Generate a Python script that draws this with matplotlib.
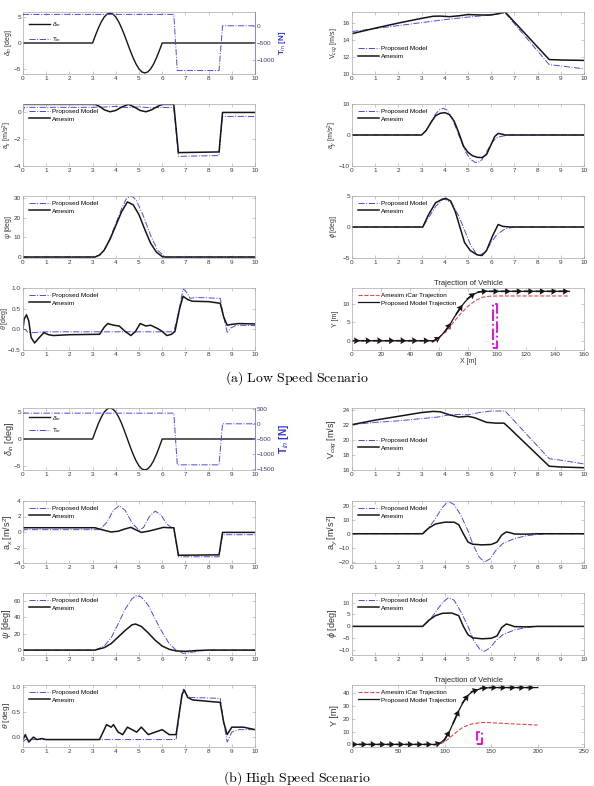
import numpy as np
import matplotlib.pyplot as plt

plt.rcParams['font.family'] = ['Liberation Sans', 'DejaVu Sans']
plt.rcParams['mathtext.fontset'] = 'custom'
plt.rcParams['mathtext.rm'] = 'Liberation Sans'
plt.rcParams['mathtext.it'] = 'Liberation Sans:italic'

BLUE = '#4b4bdc'
BLACK = '#151515'

# ---------------- (a) low speed ----------------
delta_t = [0, 3.0, 3.125, 3.25, 3.375, 3.5, 3.625, 3.75, 3.875, 4.0, 4.125, 4.25, 4.375, 4.5,
           4.625, 4.75, 4.875, 5.0, 5.125, 5.25, 5.375, 5.5, 5.625, 5.75, 5.875, 6.0, 10]
delta_low = [0, 0, 1.48, 2.85, 4.03, 4.94, 5.51, 5.7, 5.51, 4.94, 4.03, 2.85, 1.48, 0,
             -1.48, -2.85, -4.03, -4.94, -5.51, -5.7, -5.51, -4.94, -4.03, -2.85, -1.48, 0, 0]
torque_t = [0, 6.5, 6.65, 8.45, 8.6, 10]
torque_low = [330, 330, -1300, -1300, 0, 0]

v_am_t_low = [0, 1, 2, 3, 3.5, 3.8, 4.2, 4.6, 5.0, 5.5, 6.0, 6.3, 6.6, 8.5, 9.0, 10]
v_am_low = [14.75, 15.4, 16.0, 16.55, 16.8, 16.82, 16.75, 16.85, 17.0, 16.95, 16.95, 17.1, 17.3, 11.7, 11.65, 11.6]
v_pm_t_low = [0, 1, 2, 3, 4, 5, 6, 6.6, 8.5, 9, 10]
v_pm_low = [15.0, 15.35, 15.7, 16.05, 16.4, 16.7, 16.95, 17.2, 11.1, 10.95, 10.6]

ax_am_t_low = [0, 3.1, 3.3, 3.5, 3.75, 4.0, 4.25, 4.55, 4.8, 5.05, 5.3, 5.55, 5.8, 6.0, 6.5, 6.7, 8.45, 8.6, 10]
ax_am_low = [0.6, 0.6, 0.45, 0.2, 0.05, 0.15, 0.4, 0.6, 0.4, 0.15, 0.05, 0.2, 0.45, 0.6, 0.6, -3.0, -2.95, 0.0, 0.0]
ax_pm_t_low = [0, 0.05, 3.0, 3.5, 4.0, 4.5, 5.0, 5.5, 6.0, 6.5, 6.7, 8.45, 8.6, 10]
ax_pm_low = [0.0, 0.38, 0.38, 0.4, 0.45, 0.36, 0.42, 0.35, 0.38, 0.35, -3.28, -3.22, -0.3, -0.3]

ay_am_t_low = [0, 3.0, 3.2, 3.4, 3.6, 3.8, 4.0, 4.2, 4.4, 4.6, 4.8, 5.0, 5.2, 5.4, 5.6, 5.8, 6.0, 6.15, 6.3, 6.45, 6.6, 10]
ay_am_low = [0, 0, 1.5, 4.0, 6.2, 7.0, 7.2, 6.6, 4.5, 0.8, -3.5, -5.6, -6.7, -7.2, -7.3, -6.3, -3.0, -0.5, 0.5, 0.3, 0, 0]
ay_pm_t_low = [0, 3.0, 3.2, 3.4, 3.6, 3.8, 3.95, 4.1, 4.3, 4.5, 4.7, 4.9, 5.1, 5.3, 5.45, 5.6, 5.8, 6.0, 6.2, 6.4, 6.6, 6.8, 10]
ay_pm_low = [0, 0, 1.5, 4.0, 6.8, 8.3, 8.6, 8.0, 5.5, 2.0, -2.0, -5.5, -7.8, -8.8, -8.8, -8.0, -5.5, -2.8, -1.0, -0.5, -0.2, 0, 0]

psi_am_t_low = [0, 3.1, 3.3, 3.5, 3.75, 4.0, 4.25, 4.5, 4.75, 5.0, 5.25, 5.5, 5.75, 6.0, 6.1, 10]
psi_am_low = [0, 0, 1.0, 3.5, 9.0, 16.0, 23.0, 28.0, 26.5, 21.5, 14.0, 7.0, 2.5, 0.2, 0, 0]
psi_pm_t_low = [0, 3.1, 3.3, 3.5, 3.75, 4.0, 4.25, 4.45, 4.6, 4.75, 4.9, 5.2, 5.5, 5.8, 6.1, 6.2, 10]
psi_pm_low = [0, 0, 1.0, 3.5, 9.5, 17.0, 24.5, 29.5, 30.8, 30.5, 28.5, 20.5, 11.0, 3.5, 0.3, 0, 0]

phi_am_t_low = [0, 3.05, 3.3, 3.6, 3.9, 4.05, 4.25, 4.45, 4.65, 4.85, 5.1, 5.4, 5.6, 5.8, 6.05, 6.3, 6.5, 6.8, 10]
phi_am_low = [0, 0, 2.0, 3.9, 4.5, 4.6, 4.2, 2.5, 0, -2.5, -3.8, -4.5, -4.6, -3.8, -1.5, 0.4, 0.1, 0, 0]
phi_pm_t_low = [0, 3.05, 3.3, 3.6, 3.9, 4.0, 4.3, 4.6, 4.85, 5.1, 5.35, 5.5, 5.75, 6.0, 6.25, 6.6, 7.0, 10]
phi_pm_low = [0, 0, 1.5, 3.3, 4.4, 4.5, 3.8, 1.8, -0.5, -2.8, -4.3, -4.6, -4.0, -2.5, -1.2, -0.3, 0, 0]

th_am_t_low = [0, 0.05, 0.15, 0.25, 0.35, 0.5, 0.7, 0.9, 1.1, 1.3, 2.0, 3.3, 3.5, 3.65, 3.9, 4.15, 4.4, 4.65,
               4.85, 5.05, 5.3, 5.5, 5.8, 6.0, 6.2, 6.4, 6.55, 6.75, 6.9, 7.1, 7.3, 8.0, 8.5, 8.65, 8.8, 9.0, 9.3, 10]
th_am_low = [0, 0.25, 0.35, 0.2, -0.2, -0.33, -0.2, -0.08, -0.13, -0.15, -0.13, -0.12, 0.05, 0.14, 0.1, 0.08, -0.05, -0.15,
             -0.05, 0.14, 0.08, 0.1, 0.02, -0.05, -0.15, -0.12, -0.05, 0.5, 0.8, 0.72, 0.68, 0.67, 0.63, 0.3, 0.1, 0.12, 0.14, 0.13]
th_pm_t_low = [0, 0.1, 0.2, 0.4, 1.0, 6.5, 6.7, 6.9, 7.05, 7.2, 7.5, 8.5, 8.65, 8.8, 8.95, 9.2, 10]
th_pm_low = [0.0, 0.0, -0.07, -0.08, -0.06, -0.06, 0.4, 0.98, 0.9, 0.75, 0.77, 0.75, 0.3, -0.07, 0.03, 0.1, 0.09]

trj_x_low = [0, 56, 58, 60, 62, 64, 66, 68, 70, 72, 74, 76, 78, 80, 82, 84, 86, 88, 90, 92, 150]
trj_pm_low = [0, 0, 0.3, 0.9, 1.6, 2.5, 3.5, 4.7, 6.0, 7.2, 8.4, 9.5, 10.5, 11.3, 12.0, 12.5, 12.9, 13.15, 13.25, 13.3, 13.3]
trj_am_x_low = [0, 58, 60, 65, 70, 75, 80, 85, 90, 95, 100, 150]
trj_am_low = [0, 0, 0.8, 2.5, 5.0, 7.3, 9.3, 10.8, 11.7, 12.0, 12.05, 12.05]
arrow_x_low = [2, 10, 18, 26, 34, 42, 50, 58, 66, 74, 82, 90, 98, 106, 114, 122, 130, 138, 146]
obst_low = (97.2, 100.2, -2.0, 10.0)

# ---------------- (b) high speed ----------------
delta_high = [0, 0, 1.5, 2.9, 4.1, 5.02, 5.6, 5.8, 5.6, 5.02, 4.1, 2.9, 1.5, 0,
              -1.5, -2.9, -4.1, -5.02, -5.6, -5.8, -5.6, -5.02, -4.1, -2.9, -1.5, 0, 0]
torque_high = [350, 350, -1350, -1350, 0, 0]

v_am_t_high = [0, 1, 2, 3, 3.5, 3.8, 4.2, 4.6, 5.0, 5.3, 5.8, 6.2, 6.55, 6.7, 8.5, 9.0, 10]
v_am_high = [22.0, 22.6, 23.1, 23.6, 23.75, 23.7, 23.3, 23.0, 23.1, 22.9, 22.3, 22.2, 22.2, 21.8, 16.5, 16.4, 16.3]
v_pm_t_high = [0, 1, 2, 3, 3.7, 4.2, 4.6, 5.0, 5.5, 6.0, 6.6, 8.5, 9.0, 10]
v_pm_high = [22.0, 22.3, 22.5, 22.8, 23.0, 23.3, 23.35, 23.3, 23.6, 23.8, 23.8, 17.5, 17.3, 16.8]

ax_am_t_high = [0, 3.1, 3.4, 3.8, 4.1, 4.4, 4.65, 4.85, 5.1, 5.4, 5.8, 6.05, 6.3, 6.5, 6.7, 8.45, 8.6, 10]
ax_am_high = [0.55, 0.55, 0.3, 0.0, 0.1, 0.4, 0.6, 0.3, -0.05, 0.1, 0.4, 0.6, 0.55, 0.55, -3.0, -2.95, -0.05, -0.05]
ax_pm_t_high = [0, 0.05, 3.3, 3.6, 3.9, 4.15, 4.4, 4.7, 5.0, 5.2, 5.45, 5.7, 5.95, 6.2, 6.5, 6.7, 8.45, 8.6, 10]
ax_pm_high = [0.0, 0.3, 0.3, 1.2, 2.8, 3.4, 2.8, 1.2, 0.2, 0.6, 2.0, 2.7, 2.2, 1.0, 0.4, -3.2, -3.2, -0.35, -0.35]

ay_am_t_high = [0, 3.05, 3.3, 3.6, 4.0, 4.4, 4.6, 4.8, 5.0, 5.2, 5.6, 6.0, 6.25, 6.45, 6.65, 6.8, 7.0, 7.5, 8.0, 10]
ay_am_high = [0, 0, 4.0, 7.0, 8.3, 8.3, 6.5, 0, -6.0, -7.5, -8.0, -7.7, -6.0, -1.0, 1.3, 0.8, -0.2, -0.3, 0, 0]
ay_pm_t_high = [0, 3.0, 3.3, 3.6, 3.9, 4.15, 4.4, 4.7, 5.0, 5.2, 5.45, 5.7, 5.95, 6.2, 6.5, 7.0, 7.5, 8.0, 8.5, 10]
ay_pm_high = [0, 0, 4.0, 11.0, 19.0, 23.2, 21.0, 13.0, 2.0, -7.0, -16.0, -20.5, -18.0, -12.0, -7.0, -3.5, -1.5, -0.5, 0, 0]

psi_am_t_high = [0, 3.1, 3.5, 3.8, 4.1, 4.4, 4.7, 4.85, 5.1, 5.4, 5.7, 6.0, 6.3, 6.6, 7.0, 7.5, 8.0, 10]
psi_am_high = [0, 0, 3, 8, 16, 24, 31, 32, 29, 21, 12, 5, 1, -1, -1.5, -0.5, 0, 0]
psi_pm_t_high = [0, 3.1, 3.5, 3.8, 4.1, 4.4, 4.7, 4.9, 5.1, 5.4, 5.7, 6.0, 6.3, 6.6, 6.9, 7.2, 7.6, 8.0, 10]
psi_pm_high = [0, 0, 5, 15, 32, 50, 63, 67, 65, 55, 38, 22, 8, 0, -4, -3, -1, 0, 0]

phi_am_t_high = [0, 3.05, 3.3, 3.6, 3.9, 4.3, 4.6, 4.8, 5.0, 5.2, 5.6, 6.0, 6.25, 6.45, 6.65, 6.8, 7.0, 7.5, 8.0, 10]
phi_am_high = [0, 0, 2.5, 4.5, 5.5, 5.6, 4.5, 0, -3.5, -4.8, -5.2, -5.0, -4.0, -0.5, 1.0, 0.6, -0.1, -0.2, 0, 0]
phi_pm_t_high = [0, 3.0, 3.3, 3.6, 3.9, 4.15, 4.4, 4.7, 5.0, 5.25, 5.5, 5.7, 5.95, 6.2, 6.5, 7.0, 7.5, 8.0, 10]
phi_pm_high = [0, 0, 2.0, 6.0, 10.0, 12.0, 11.0, 6.0, 0, -6.0, -9.5, -10.5, -9.0, -6.0, -3.5, -1.5, -0.5, 0, 0]

th_am_t_high = [0, 0.1, 0.25, 0.45, 0.6, 0.8, 1.0, 3.3, 3.5, 3.6, 3.8, 3.9, 4.1, 4.3, 4.5, 4.7, 4.9, 5.1,
                5.4, 5.7, 6.0, 6.3, 6.6, 6.85, 6.95, 7.1, 7.3, 8.0, 8.5, 8.65, 8.8, 9.0, 9.5, 10]
th_am_high = [-0.05, 0.05, -0.1, 0.0, -0.05, -0.03, -0.05, -0.05, 0.15, 0.25, 0.2, 0.25, 0.1, 0.05, 0.2, 0.15, 0.1, 0.2,
              0.05, 0.1, 0.15, 0.05, 0.05, 0.85, 0.95, 0.8, 0.75, 0.72, 0.7, 0.3, 0.05, 0.2, 0.2, 0.15]
th_pm_t_high = [0, 0.1, 0.3, 6.6, 6.75, 6.9, 7.05, 7.2, 8.5, 8.65, 8.8, 9.0, 9.3, 10]
th_pm_high = [-0.1, -0.05, -0.05, -0.05, 0.5, 0.98, 0.85, 0.8, 0.78, 0.3, -0.1, 0.1, 0.15, 0.15]

trj_x_high = [0, 90, 95, 100, 105, 110, 115, 120, 125, 130, 140, 150, 200]
trj_pm_high = [0, 0, 1, 4, 10, 18, 26, 33, 38, 41, 43.5, 44, 44]
trj_am_x_high = [0, 90, 95, 100, 105, 110, 115, 120, 130, 140, 150, 170, 200]
trj_am_high = [0, 0, 0.5, 2, 5, 8, 11, 13.5, 16, 17, 16.8, 16, 15]
arrow_x_high = [2, 12, 22, 32, 42, 52, 62, 72, 82, 92, 102, 112, 122, 132, 142, 152, 162, 172, 182, 192]
obst_high = (135.0, 140.0, 0.0, 10.0)

W, H = 594, 786
fig = plt.figure(figsize=(W / 100, H / 100), dpi=100)


def new_ax(col, top):
    x0 = 23 if col == 0 else 352
    return fig.add_axes([x0 / W, 1 - (top + 62) / H, 232 / W, 62 / H])


def style(ax, xlim, ylim, yticks, xticks=None):
    ax.set_xlim(xlim)
    ax.set_ylim(ylim)
    ax.set_yticks(yticks)
    if xticks is not None:
        ax.set_xticks(xticks)
    ax.tick_params(direction='in', length=2, width=0.4, labelsize=4.6, pad=1.5,
                   colors='#a0a0a0', labelcolor='#3a3a3a', top=True, right=True)
    for s in ax.spines.values():
        s.set_color('#a8a8a8')
        s.set_linewidth(0.5)


def ylab(ax, text, fs, lx):
    ax.set_ylabel(text, fontsize=fs, color='#333333')
    # label coords give the right edge of the rotated text
    ax.yaxis.set_label_coords(lx, 0.5)


def leg(ax, loc, anchor, **kw):
    opts = dict(frameon=False, fontsize=4.6, handlelength=3.3, handletextpad=0.3,
                labelspacing=0.35, borderaxespad=0.2)
    opts.update(kw)
    return ax.legend(loc=loc, bbox_to_anchor=anchor, **opts)


def compare(ax, t_pm, y_pm, t_am, y_am, ylabel, ylim, yticks, fs, lx, legend_loc=(0.01, 0.99), va='upper left'):
    ax.plot(t_pm, y_pm, '-.', color=BLUE, lw=0.7, label='Proposed Model')
    ax.plot(t_am, y_am, '-', color=BLACK, lw=1.1, label='Amesim')
    style(ax, (0, 10), ylim, yticks, range(0, 11))
    ylab(ax, ylabel, fs, lx)
    leg(ax, va, legend_loc)


def steer(ax, delta, torque, dlim, tlim, tticks, fs, lx, anchor, spacing):
    l1, = ax.plot(delta_t, delta, '-', color=BLACK, lw=1.0)
    style(ax, (0, 10), dlim, [-5, 0, 5], range(0, 11))
    ax.tick_params(right=False)
    ylab(ax, r'$\delta_{in}$ [deg]', fs, lx)
    ax2 = ax.twinx()
    l2, = ax2.plot(torque_t, torque, '-.', color=BLUE, lw=0.7)
    ax2.set_ylim(tlim)
    ax2.set_yticks(tticks)
    ax2.tick_params(direction='in', length=2, width=0.4, labelsize=4.6, pad=1.5,
                    colors='#8080e0', labelcolor='#3a3a7a')
    ax2.spines['right'].set_color('#8080e0')
    ax2.spines['right'].set_linewidth(0.6)
    for s in ['top', 'left', 'bottom']:
        ax2.spines[s].set_visible(False)
    ax2.set_ylabel(r'T$_{in}$ [N]', fontsize=fs + 0.8, color='#3030d0', fontweight='bold', labelpad=1)
    leg(ax, 'upper left', anchor, labelspacing=spacing, handles=[l1, l2],
        labels=[r'$\delta_{in}$', r'T$_{in}$'])


def trajectory(ax, x_pm, y_pm, x_am, y_am, arrows, obst, xlim, ylim, yticks, xticks, fs, lx, alen, xlabel):
    ax.plot(x_am, y_am, '--', color='#e04848', lw=0.8, label='Amesim iCar Trajection')
    ax.plot(x_pm, y_pm, '-', color=BLACK, lw=0.9, label='Proposed Model Trajection')
    arrows = np.array(arrows, dtype=float)
    ay = np.interp(arrows, x_pm, y_pm)
    dy = np.interp(arrows + 1.0, x_pm, y_pm) - np.interp(arrows - 1.0, x_pm, y_pm)
    dx = np.full(len(arrows), 2.0)
    ax.quiver(arrows, ay, dx, dy, angles='xy', pivot='middle', color=BLACK,
              scale_units='inches', scale=20 / alen, width=0.007, headwidth=4.2, headlength=3.6,
              headaxislength=3.3)
    x0, x1, y0, y1 = obst
    ax.plot([x0, x1, x1, x0, x0], [y0, y0, y1, y1, y0], '-.', color='#e000e0', lw=1.3)
    style(ax, xlim, ylim, yticks, xticks)
    ylab(ax, 'Y [m]', fs, lx)
    if xlabel:
        ax.set_xlabel('X [m]', fontsize=fs, color='#333333', labelpad=1)
    ax.set_title('Trajection of Vehicle', fontsize=5.5, color='#222222', pad=2)
    leg(ax, 'upper left', (0.01, 0.99))


# (a) low speed
steer(new_ax(0, 12), delta_low, torque_low, (-5.9, 5.9), (-1400, 400), [-1000, -500, 0], 5.0,
      -0.039, (0.01, 0.93), 1.0)
compare(new_ax(1, 12), v_pm_t_low, v_pm_low, v_am_t_low, v_am_low, r'V$_{cog}$ [m/s]',
        (10, 17.3), [10, 12, 14, 16], 5.0, -0.056, legend_loc=(0.01, 0.35), va='center left')
compare(new_ax(0, 104), ax_pm_t_low, ax_pm_low, ax_am_t_low, ax_am_low, r'a$_x$ [m/s$^2$]',
        (-4, 0.63), [-4, -2, 0], 5.0, -0.039)
compare(new_ax(1, 104), ay_pm_t_low, ay_pm_low, ay_am_t_low, ay_am_low, r'a$_y$ [m/s$^2$]',
        (-10, 10), [-10, 0, 10], 5.0, -0.056)
compare(new_ax(0, 196), psi_pm_t_low, psi_pm_low, psi_am_t_low, psi_am_low, r'$\psi$ [deg]',
        (-0.5, 31), [0, 10, 20, 30], 5.0, -0.039)
compare(new_ax(1, 196), phi_pm_t_low, phi_pm_low, phi_am_t_low, phi_am_low, r'$\phi$ [deg]',
        (-5, 5), [-5, 0, 5], 5.0, -0.056)
compare(new_ax(0, 288), th_pm_t_low, th_pm_low, th_am_t_low, th_am_low, r'$\theta$ [deg]',
        (-0.5, 1.0), [-0.5, 0, 0.5, 1], 5.0, -0.055)
trajectory(new_ax(1, 288), trj_x_low, trj_pm_low, trj_am_x_low, trj_am_low, arrow_x_low, obst_low,
           (0, 160), (-2.5, 14.2), [0, 5, 10], range(0, 161, 20), 5.0, -0.056, 1.0, True)

# (b) high speed
steer(new_ax(0, 408), delta_high, torque_high, (-5.8, 5.8), (-1520, 520), [-1500, -1000, -500, 0, 500], 6.5,
      -0.03, (0.01, 0.97), 0.55)
compare(new_ax(1, 408), v_pm_t_high, v_pm_high, v_am_t_high, v_am_high, r'V$_{cog}$ [m/s]',
        (16, 24.2), [16, 18, 20, 22, 24], 6.5, -0.056, legend_loc=(0.01, 0.42), va='center left')
compare(new_ax(0, 501), ax_pm_t_high, ax_pm_high, ax_am_t_high, ax_am_high, r'a$_x$ [m/s$^2$]',
        (-4, 4), [-4, -2, 0, 2, 4], 6.5, -0.035)
compare(new_ax(1, 501), ay_pm_t_high, ay_pm_high, ay_am_t_high, ay_am_high, r'a$_y$ [m/s$^2$]',
        (-21, 23.5), [-20, -10, 0, 10, 20], 6.5, -0.056)
compare(new_ax(0, 593), psi_pm_t_high, psi_pm_high, psi_am_t_high, psi_am_high, r'$\psi$ [deg]',
        (-6, 70), [0, 20, 40, 60], 6.5, -0.045)
compare(new_ax(1, 593), phi_pm_t_high, phi_pm_high, phi_am_t_high, phi_am_high, r'$\phi$ [deg]',
        (-12, 14), [-10, -5, 0, 5, 10], 6.5, -0.056)
compare(new_ax(0, 685), th_pm_t_high, th_pm_high, th_am_t_high, th_am_high, r'$\theta$ [deg]',
        (-0.2, 1.05), [0, 0.5, 1], 6.0, -0.047)
trajectory(new_ax(1, 685), trj_x_high, trj_pm_high, trj_am_x_high, trj_am_high, arrow_x_high, obst_high,
           (0, 250), (-2, 46), [0, 10, 20, 30, 40], range(0, 251, 50), 6.5, -0.056, 0.8, False)

fig.text(0.5, 1 - 378 / H, r'$\mathrm{(a)\ Low\ Speed\ Scenario}$', math_fontfamily='cm',
         ha='center', va='center', fontsize=10)
fig.text(0.5, 1 - 778 / H, r'$\mathrm{(b)\ High\ Speed\ Scenario}$', math_fontfamily='cm',
         ha='center', va='center', fontsize=10)

fig.savefig('out.png', dpi=100)
